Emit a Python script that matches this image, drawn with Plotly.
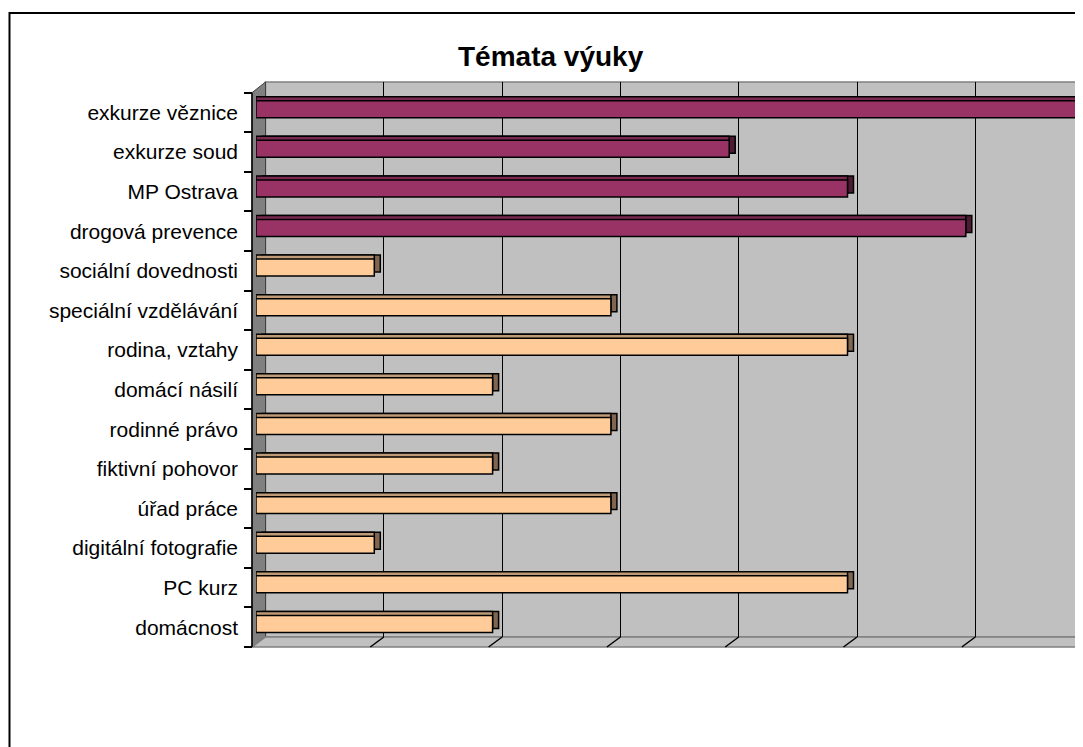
import plotly.graph_objects as go

# data (bottom to top)
topics_a = ['domácnost', 'PC kurz', 'digitální fotografie', 'úřad práce',
            'fiktivní pohovor', 'rodinné právo', 'domácí násilí', 'rodina, vztahy',
            'speciální vzdělávání', 'sociální dovednosti']
counts_a = [2, 5, 1, 3, 2, 3, 2, 5, 3, 1]
topics_b = ['drogová prevence', 'MP Ostrava', 'exkurze soud', 'exkurze věznice']
counts_b = [6, 5, 4, 7]
topics = topics_a + topics_b

SCREEN_W, SCREEN_H = 1083, 747
PAGE = 8   # the page body margin pushes the figure 8px right and down
W, H = SCREEN_W - PAGE, SCREEN_H - PAGE
FONT = 'Liberation Sans, Arial, sans-serif'

def px_x(p):
    return (p - PAGE) / W

def px_y(p):
    return 1 - (p - PAGE) / H

# pixel geometry of the 3-D frame (screen pixels)
unit = 118.3          # px per count
band = 39.6           # px per category
wall_x, front_x = 268, 256
wall_top, floor_back, floor_front = 82, 637, 647
front_top = 92.7
right = PAGE + W      # right edge of the figure

dx = 6 / unit         # bar depth, horizontal
dy = 4 / band         # bar depth, vertical
w = 17 / band         # bar front face height
lift = 3.3 / band
off = -w / 2 + lift

fig = go.Figure()

# empty trace so the back-wall grid subplot exists
fig.add_trace(go.Scatter(x=[], y=[], xaxis='x', yaxis='y', showlegend=False))

layers = [
    ('#806650', '#4D1A33', dx, off + dy),   # side faces
    ('#BF9A77', '#7A2950', 0, off + dy),    # top faces
    ('#FFCC99', '#993366', 0, off),         # front faces
]
for col_a, col_b, base, o in layers:
    for names, vals, col in [(topics_a, counts_a, col_a), (topics_b, counts_b, col_b)]:
        fig.add_trace(go.Bar(
            y=names, x=vals, orientation='h', base=base, width=w, offset=o,
            marker=dict(color=col, line=dict(color='black', width=1.5)),
            xaxis='x2', yaxis='y2', showlegend=False))

fig.update_layout(
    width=W, height=H,
    margin=dict(l=0, r=0, t=0, b=0),
    paper_bgcolor='white', plot_bgcolor='rgba(0,0,0,0)',
    barmode='overlay',
    font=dict(family=FONT, color='black'),
    xaxis=dict(domain=[px_x(wall_x), 1],
               range=[(wall_x - 265.5) / unit, (right - 265.5) / unit],
               tick0=0, dtick=1, showgrid=True, gridcolor='black', gridwidth=1,
               showticklabels=False, ticks='', zeroline=False, showline=False, anchor='y'),
    yaxis=dict(domain=[px_y(floor_back), px_y(wall_top)], range=[0, 1], visible=False,
               anchor='x'),
    xaxis2=dict(domain=[px_x(front_x), 1], range=[0, (right - front_x) / unit],
                visible=False, anchor='y2'),
    yaxis2=dict(domain=[px_y(floor_front), px_y(front_top)], type='category',
                categoryorder='array', categoryarray=topics,
                range=[-0.5, len(topics) - 0.5],
                tickson='boundaries', ticks='outside', ticklen=8, tickwidth=1.5,
                tickcolor='black', showgrid=False, showline=False, zeroline=False,
                anchor='free', position=px_x(252), ticklabelstandoff=14,
                tickfont=dict(size=21, family=FONT, color='black')),
)

wall_fill, edge = '#C0C0C0', '#808080'
shapes = [
    # back wall
    dict(type='rect', xref='paper', yref='paper', layer='below',
         x0=px_x(265.5), x1=1.02, y0=px_y(floor_back), y1=px_y(wall_top),
         fillcolor=wall_fill, line=dict(color=edge, width=1.5)),
    # left wall
    dict(type='path', xref='paper', yref='paper', layer='below',
         path=f'M {px_x(252)},{px_y(front_top)} L {px_x(265.5)},{px_y(wall_top)} '
              f'L {px_x(265.5)},{px_y(floor_back)} L {px_x(252)},{px_y(floor_front)} Z',
         fillcolor='#808080', line=dict(color='#404040', width=1)),
    # floor
    dict(type='path', xref='paper', yref='paper', layer='below',
         path=f'M {px_x(252)},{px_y(floor_front)} L {px_x(265.5)},{px_y(floor_back)} '
              f'L {px_x(right + 20)},{px_y(floor_back)} L {px_x(right + 20)},{px_y(floor_front)} Z',
         fillcolor=wall_fill, line=dict(color=edge, width=1.5)),
    # front edge of left wall
    dict(type='line', xref='paper', yref='paper', layer='above',
         x0=px_x(252), x1=px_x(252), y0=px_y(front_top), y1=px_y(floor_front),
         line=dict(color='black', width=1.5)),
    # chart border (left edge kept just inside the visible figure)
    dict(type='rect', xref='paper', yref='paper', layer='above',
         x0=px_x(9.5), x1=1.05, y0=-0.05, y1=px_y(13),
         line=dict(color='black', width=2)),
]
# slanted tick marks on the floor
for k in range(1, 7):
    xb = 265.5 + k * unit
    shapes.append(dict(type='line', xref='paper', yref='paper', layer='above',
                       x0=px_x(xb), y0=px_y(floor_back), x1=px_x(xb - 13.5), y1=px_y(floor_front),
                       line=dict(color='black', width=1.5)))
fig.update_layout(shapes=shapes)

fig.add_annotation(text='<b>Témata výuky</b>', xref='paper', yref='paper',
                   x=px_x(551), y=px_y(56), xanchor='center', yanchor='middle',
                   showarrow=False, font=dict(size=28, family=FONT, color='black'))

fig.write_html('out.html')
